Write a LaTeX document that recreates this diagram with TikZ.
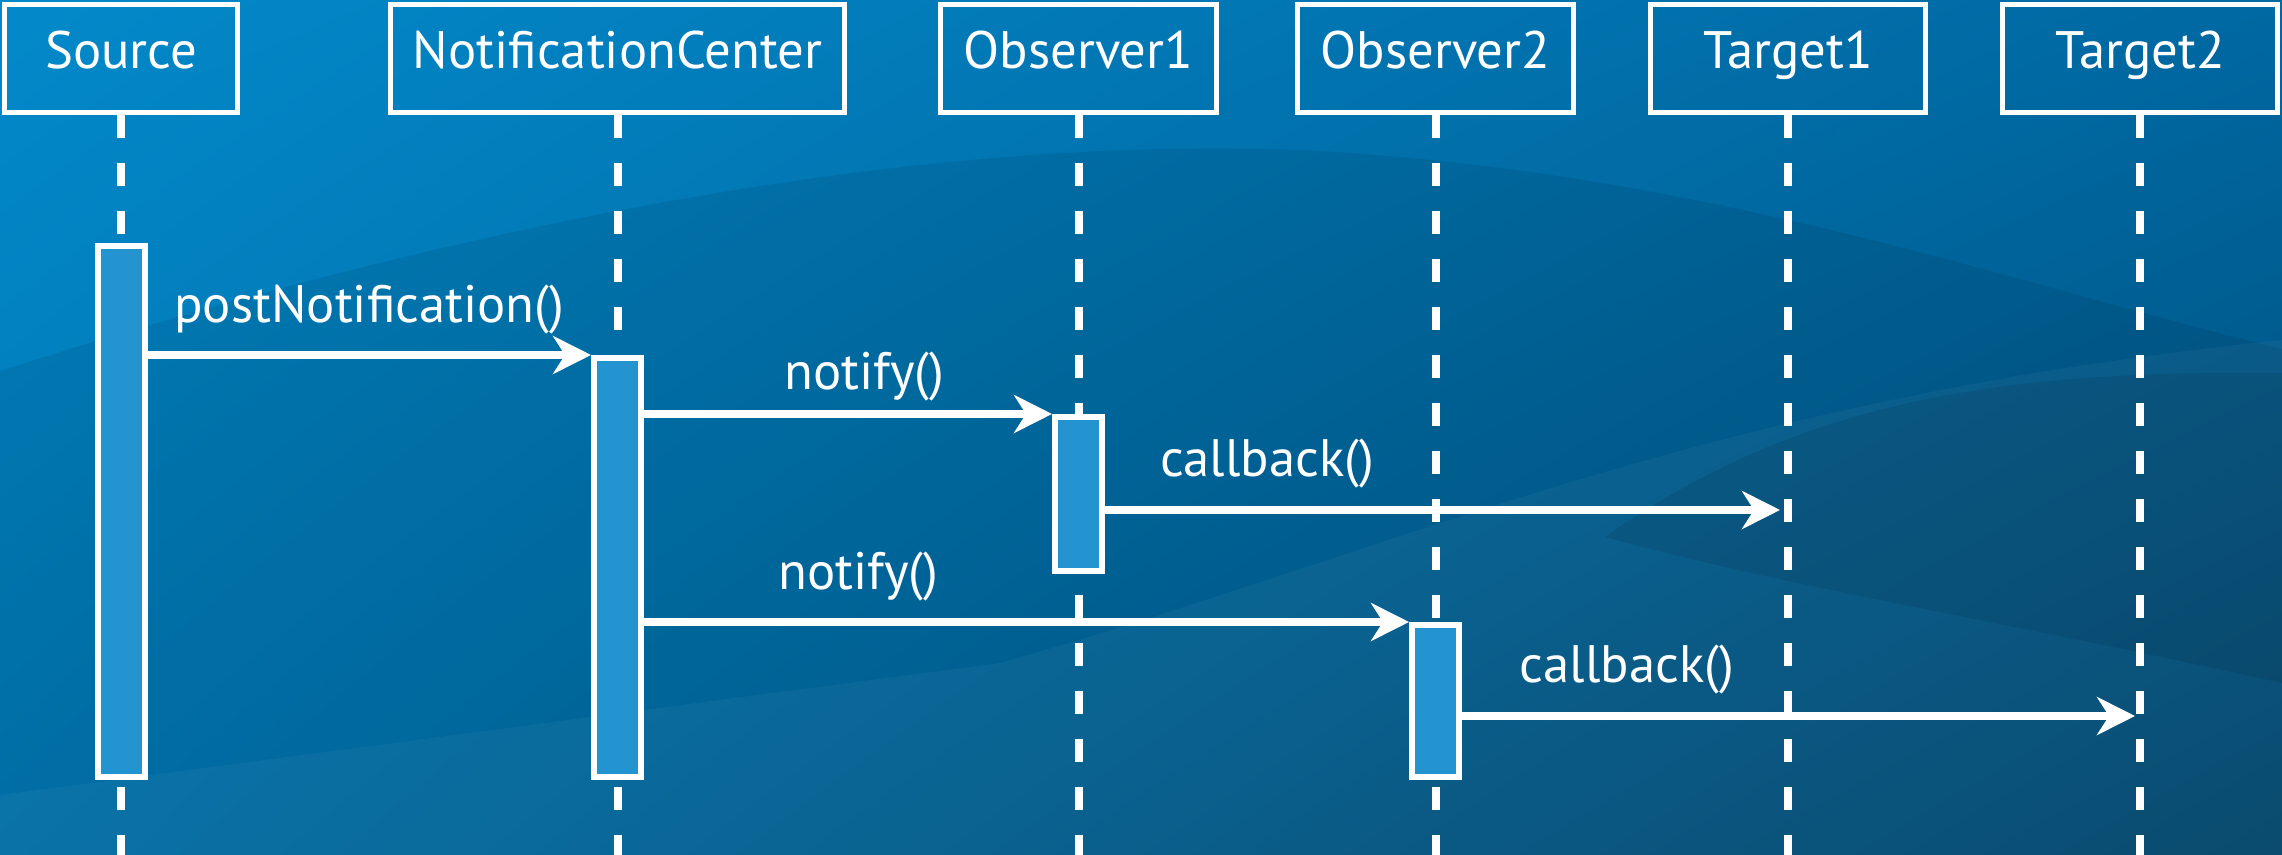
\documentclass[tikz,border=0pt]{standalone}
\usepackage{fontspec}
\setmainfont{PT Sans}
\usetikzlibrary{arrows.meta, positioning, shadings}
\definecolor{bgTL}{RGB}{3,137,202}
\definecolor{bgTR}{RGB}{0,104,162}
\definecolor{bgBL}{RGB}{0,119,179}
\definecolor{bgBR}{RGB}{0,74,115}
\definecolor{barblue}{RGB}{35,148,208}
\tikzstyle{seq}=[font=\fontsize{15pt}{17pt}\selectfont, text=white, >={Stealth[length=0.38cm, width=0.38cm, inset=0.12cm]}]
\tikzstyle{head}=[draw=white, line width=0.05cm, minimum height=1.08cm, text height=0.75em, text depth=0.2em, inner sep=0pt]
\tikzstyle{lifeline}=[draw=white, line width=0.08cm, dash pattern=on 0.23cm off 0.25cm]
\tikzstyle{bar}=[draw=white, fill=barblue, line width=0.06cm, minimum width=0.47cm, inner sep=0pt, anchor=north]
\tikzstyle{msg}=[->, draw=white, line width=0.08cm]
\tikzstyle{lbl}=[anchor=base, inner sep=0pt]

\begin{document}
\begin{tikzpicture}[seq]
  \useasboundingbox (0,0) rectangle (22.82,-8.55);
  \shade[upper left=bgTL, upper right=bgTR, lower left=bgBL, lower right=bgBR] (0,0) rectangle (22.82,-8.55);
  \fill[black, opacity=0.08] (0,-3.71) .. controls (4.4,-2.3) and (9,-1.35) .. (13,-1.5) .. controls (17,-1.7) and (20,-2.8) .. (22.82,-3.49) |- (0,-8.55) -- cycle;
  \fill[white, opacity=0.04] (0,-7.95) -- (10,-6.63) .. controls (14,-5.5) and (17,-4) .. (22.82,-3.4) -- (22.82,-8.55) -- (0,-8.55) -- cycle;
  \fill[black, opacity=0.08] (16.05,-5.37) .. controls (18,-4.0) and (20,-3.7) .. (22.82,-3.73) -- (22.82,-6.83) .. controls (20,-6.2) and (18,-5.9) .. (16.05,-5.37) -- cycle;

  \node[head, minimum width=2.33cm] (src) at (1.21,-0.585) {Source};
  \node[head, minimum width=4.54cm] (nc) [right=1.48cm of src] {NotificationCenter};
  \node[head, minimum width=2.76cm] (obs1) [right=0.91cm of nc] {Observer1};
  \node[head, minimum width=2.76cm] (obs2) [right=0.76cm of obs1] {Observer2};
  \node[head, minimum width=2.75cm] (tgt1) [right=0.72cm of obs2] {Target1};
  \node[head, minimum width=2.75cm] (tgt2) [right=0.72cm of tgt1] {Target2};

  \coordinate (bottom) at (0,-8.55);
  \foreach \n in {src,nc,obs1,obs2,tgt1,tgt2}
    \draw[lifeline] (\n.south) -- (\n.south |- bottom);

  \node[bar, minimum height=5.31cm] (srcAct) at ([yshift=-1.28cm]src.south) {};
  \node[bar, minimum height=4.19cm] (ncAct) at ([yshift=-2.40cm]nc.south) {};
  \node[bar, minimum height=1.54cm] (obs1Act) at ([yshift=-2.99cm]obs1.south) {};
  \node[bar, minimum height=1.52cm] (obs2Act) at ([yshift=-5.07cm]obs2.south) {};

  \path (tgt1.south |- 0,-5.10) ++(-0.08,0) coordinate (cb1);
  \path (tgt2.south |- 0,-7.16) ++(-0.05,0) coordinate (cb2);

  \draw[msg] (srcAct.east |- ncAct.north) -- node[lbl, pos=0.5, yshift=0.32cm] {postNotification()} (ncAct.north west);
  \draw[msg] (ncAct.east |- obs1Act.north) -- node[lbl, pos=0.54, yshift=0.24cm] {notify()} (obs1Act.north west);
  \draw[msg] (obs1Act.east |- cb1) -- node[lbl, pos=0.24, yshift=0.33cm] {callback()} (cb1);
  \draw[msg] (ncAct.east |- obs2Act.north) -- node[lbl, pos=0.28, yshift=0.32cm] {notify()} (obs2Act.north west);
  \draw[msg] (obs2Act.east |- cb2) -- node[lbl, pos=0.245, yshift=0.33cm] {callback()} (cb2);
\end{tikzpicture}
\end{document}
